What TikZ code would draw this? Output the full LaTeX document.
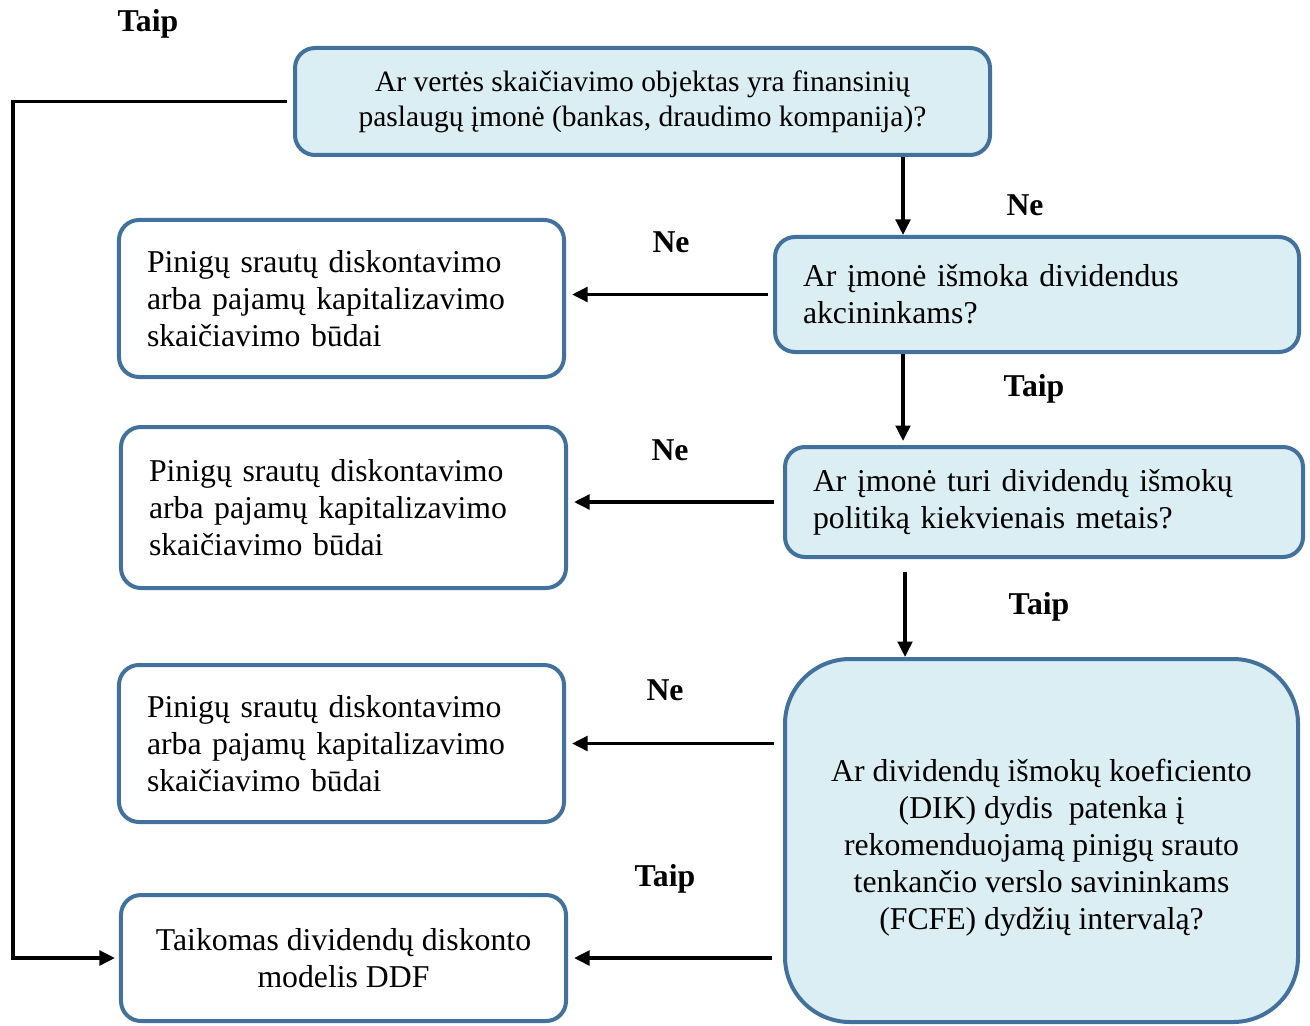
\documentclass[tikz,border=0pt]{standalone}
\usepackage{fontspec}
\setmainfont{Liberation Serif}
\usetikzlibrary{arrows.meta}
\definecolor{boxline}{RGB}{65,113,156}
\definecolor{boxfill}{RGB}{218,238,243}

\begin{document}
\begin{tikzpicture}[x=0.4pt,y=-0.4pt,
  box/.style={draw=boxline, line width=1.6pt, rounded corners=8pt,
    font=\fontsize{12.7}{14.8}\selectfont, inner sep=0pt},
  qbox/.style={box, fill=boxfill},
  arr/.style={line width=1.4pt, -{Triangle[length=6.2pt,width=5.8pt]}},
  lbl/.style={font=\fontsize{12.7}{14}\selectfont\bfseries, inner sep=0pt}]
\useasboundingbox (0,0) rectangle (1310,1025);

% question boxes
\node[qbox, minimum width=278pt, minimum height=42.8pt, align=center,
  font=\fontsize{11.8}{14}\selectfont] (top) at (642.5,101.5)
  {Ar vertės skaičiavimo objektas yra finansinių\\paslaugų įmonė (bankas, draudimo kompanija)?};
\node[qbox, minimum width=209.6pt, minimum height=46pt, text width=187.2pt, align=left]
  (q2) at (1037,294.5) {Ar įmonė išmoka dividendus\\akcininkams?};
\node[qbox, minimum width=207.2pt, minimum height=44pt, text width=184.8pt, align=left]
  (q3) at (1044,502) {Ar įmonė turi dividendų išmokų\\politiką kiekvienais metais?};
\node[qbox, rounded corners=26pt, minimum width=205.2pt, minimum height=145.2pt, align=center]
  (q4) at (1041.5,840.5) {\rule{0pt}{15pt}Ar dividendų išmokų koeficiento\\(DIK) dydis\ \ patenka į\\rekomenduojamą pinigų srauto\\tenkančio verslo savininkams\\(FCFE) dydžių intervalą?};

% outcome boxes
\node[box, minimum width=178pt, minimum height=62.8pt, text width=155.6pt, align=left]
  (l1) at (341.5,298.5) {Pinigų srautų diskontavimo\\arba pajamų kapitalizavimo\\skaičiavimo būdai};
\node[box, minimum width=178pt, minimum height=64.4pt, text width=155.6pt, align=left]
  (l2) at (343.5,507.5) {Pinigų srautų diskontavimo\\arba pajamų kapitalizavimo\\skaičiavimo būdai};
\node[box, minimum width=178pt, minimum height=62.8pt, text width=155.6pt, align=left]
  (l3) at (341.5,743.5) {Pinigų srautų diskontavimo\\arba pajamų kapitalizavimo\\skaičiavimo būdai};
\node[box, minimum width=178pt, minimum height=50.4pt, align=center]
  (l4) at (343.5,958) {Taikomas dividendų diskonto\\modelis DDF};

% guide coordinates for the vertical connectors
\coordinate (vx1) at (903,0);
\coordinate (vx2) at (905,0);
\coordinate (lx) at (13,0);

% vertical connectors
\draw[arr] (top.south -| vx1) -- (q2.north -| vx1);
\draw[arr, shorten >=1.6pt] (q2.south -| vx1) -- (q3.north -| vx1);
\draw[arr] ([yshift=-5pt]q3.south -| vx2) -- (q4.north -| vx2);

% horizontal connectors
\draw[arr, shorten <=2pt, shorten >=2.4pt] (q2.west) -- (q2.west -| l1.east);
\draw[arr, shorten <=3.6pt, shorten >=2.4pt] (q3.west) -- (q3.west -| l2.east);
\draw[arr, shorten <=3.6pt, shorten >=2.4pt] (q4.west |- l3.east) -- (l3.east);
\draw[arr, shorten <=4.4pt, shorten >=2.4pt] (q4.west |- l4.east) -- (l4.east);

% loop from the first question to the model box
\draw[arr, shorten <=2.4pt, shorten >=1.6pt] (top.west) -- (top.west -| lx) -- (l4.west -| lx) -- (l4.west);

% labels
\node[lbl] (t0) at (148,24) {Taip};
\node[lbl] (n1) at (1025,205) {Ne};
\node[lbl] (n2) at (671,242) {Ne};
\node[lbl] (t2) at (1034,389) {Taip};
\node[lbl] (n3) at (670,450) {Ne};
\node[lbl] (t3) at (1039,607) {Taip};
\node[lbl] (n4) at (665,690) {Ne};
\node[lbl] (t4) at (665,879) {Taip};
\end{tikzpicture}
\end{document}
